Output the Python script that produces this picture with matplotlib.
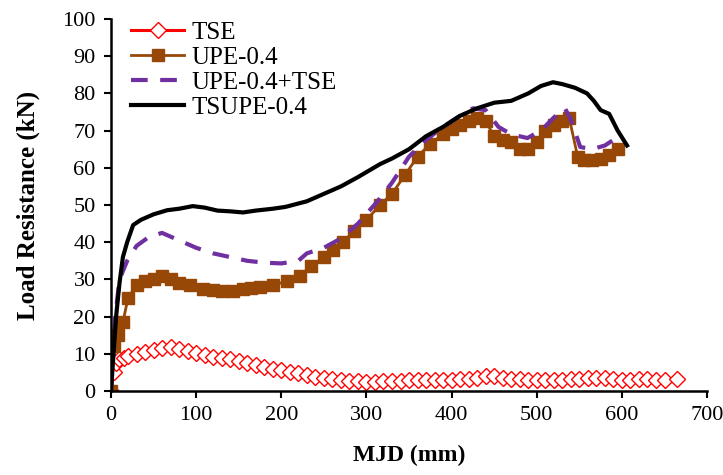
import matplotlib
matplotlib.use('Agg')

import matplotlib.pyplot as plt

plt.rcParams['font.family'] = ['Liberation Serif', 'DejaVu Serif']

# TSE
tse_x = [0, 3, 6, 10, 15, 20, 30, 40, 50, 60, 70, 80, 90, 100, 110, 120, 130, 140, 150, 160,
         170, 180, 190, 200, 210, 220, 230, 240, 250, 260, 270, 280, 290, 300, 310, 320, 330,
         340, 350, 360, 370, 380, 390, 400, 410, 420, 430, 440, 450, 460, 470, 480, 490, 500,
         510, 520, 530, 540, 550, 560, 570, 580, 590, 600, 610, 620, 630, 640, 650, 665]
tse_y = [0, 5, 7.5, 8.5, 9, 9.5, 10, 10.5, 11, 11.5, 11.8, 11.3, 10.8, 10.2, 9.6, 9.2, 8.8, 8.5,
         8.2, 7.6, 7, 6.5, 6, 5.6, 5.2, 4.8, 4.3, 3.8, 3.5, 3.3, 3.0, 2.8, 2.6, 2.5, 2.5, 2.6,
         2.7, 2.8, 2.9, 2.9, 2.9, 2.9, 3.0, 3.0, 3.1, 3.3, 3.6, 4.0, 4.0, 3.6, 3.3, 3.1, 3.0,
         3.0, 2.9, 2.9, 3.0, 3.1, 3.2, 3.4, 3.6, 3.4, 3.2, 3.0, 3.0, 3.1, 3.1, 3.0, 3.0, 3.2]

# UPE-0.4
upe_x = [0, 3, 8, 14, 20, 30, 40, 50, 60, 70, 80, 93, 108, 120, 130, 143, 155, 165, 175, 190,
         207, 222, 235, 250, 261, 273, 285, 300, 316, 330, 345, 360, 375, 390, 400, 410, 420,
         430, 440, 450, 460, 470, 480, 490, 500, 510, 520, 530, 538, 548, 556, 565, 575, 585, 595]
upe_y = [0, 12, 15, 18.5, 25, 28.5, 29.5, 30, 30.8, 30, 29, 28.5, 27.3, 27.2, 27, 27, 27.3,
         27.8, 28, 28.5, 29.5, 31, 33.5, 36, 38, 40, 43, 46, 50, 53, 58, 63, 66.5, 69, 70.5,
         71.5, 72.5, 73.5, 72.5, 68.5, 67.5, 67, 65, 65, 67, 70, 71.5, 72.5, 73.5, 63, 62, 62,
         62.5, 63.5, 65]

# UPE-0.4+TSE
comb_x = [0, 5, 10, 19, 30, 45, 60, 80, 100, 120, 140, 160, 180, 200, 220, 230, 250, 270, 290,
          313, 330, 350, 370, 390, 410, 425, 440, 455, 470, 489, 505, 520, 533, 540, 551, 565,
          580, 590]
comb_y = [0, 20, 30, 35, 39, 41.5, 42.5, 40.5, 38.5, 37, 36, 35, 34.5, 34.3, 35, 37, 38.5, 41,
          45, 51, 56, 63, 67.5, 71, 74, 76, 75.5, 71, 69, 68, 70, 73.5, 76, 73, 65.6, 65, 66,
          67.5]

# TSUPE-0.4
tsupe_x = [0, 3, 6, 10, 14, 19, 26, 35, 50, 66, 80, 96, 110, 125, 140, 155, 170, 190, 205, 230,
           250, 270, 290, 316, 330, 350, 370, 390, 410, 430, 450, 470, 490, 505, 519, 530, 545,
           559, 567, 575, 585, 595, 606]
tsupe_y = [0, 10, 20, 29, 36, 40, 44.6, 46, 47.5, 48.6, 49, 49.7, 49.3, 48.5, 48.3, 48, 48.5,
           49, 49.5, 51, 53, 55, 57.5, 61, 62.5, 65, 68.5, 71, 74, 76, 77.5, 78, 80, 82, 83,
           82.5, 81.5, 80, 78, 75.5, 74.5, 70, 66]

fig = plt.figure(figsize=(7.23, 4.75), dpi=100)
ax = fig.add_axes([0.1535, 0.1768, 0.8245, 0.7832])

ax.plot(tse_x, tse_y, color='#FF0000', lw=2.2, marker='D', markersize=8,
        markerfacecolor='white', markeredgecolor='#FF0000', markeredgewidth=1, label='TSE')
ax.plot(upe_x, upe_y, color='#974706', lw=2, marker='s', markersize=8, label='UPE-0.4')
ax.plot(comb_x, comb_y, color='#7030A0', lw=3, dashes=(4, 3), label='UPE-0.4+TSE')
ax.plot(tsupe_x, tsupe_y, color='black', lw=3, label='TSUPE-0.4')

ax.set_xlim(0, 700)
ax.set_ylim(0, 100)
ax.set_xticks(range(0, 701, 100))
ax.set_yticks(range(0, 101, 10))
ax.spines['top'].set_visible(False)
ax.spines['right'].set_visible(False)
ax.spines['left'].set_linewidth(1.8)
ax.spines['bottom'].set_linewidth(1.8)
ax.tick_params(direction='out', length=5, width=1.5, labelsize=16, pad=6)
ax.set_xlabel('MJD (mm)', fontsize=17, fontweight='bold', labelpad=14)
ax.set_ylabel('Load Resistance (kN)', fontsize=18, fontweight='bold', labelpad=16)

ax.legend(loc='upper left', bbox_to_anchor=(0.005, 1.04), frameon=False, fontsize=18,
          handlelength=2.1, handletextpad=0.3, labelspacing=0.1, borderaxespad=0.3)

fig.savefig('out.png', dpi=100)
